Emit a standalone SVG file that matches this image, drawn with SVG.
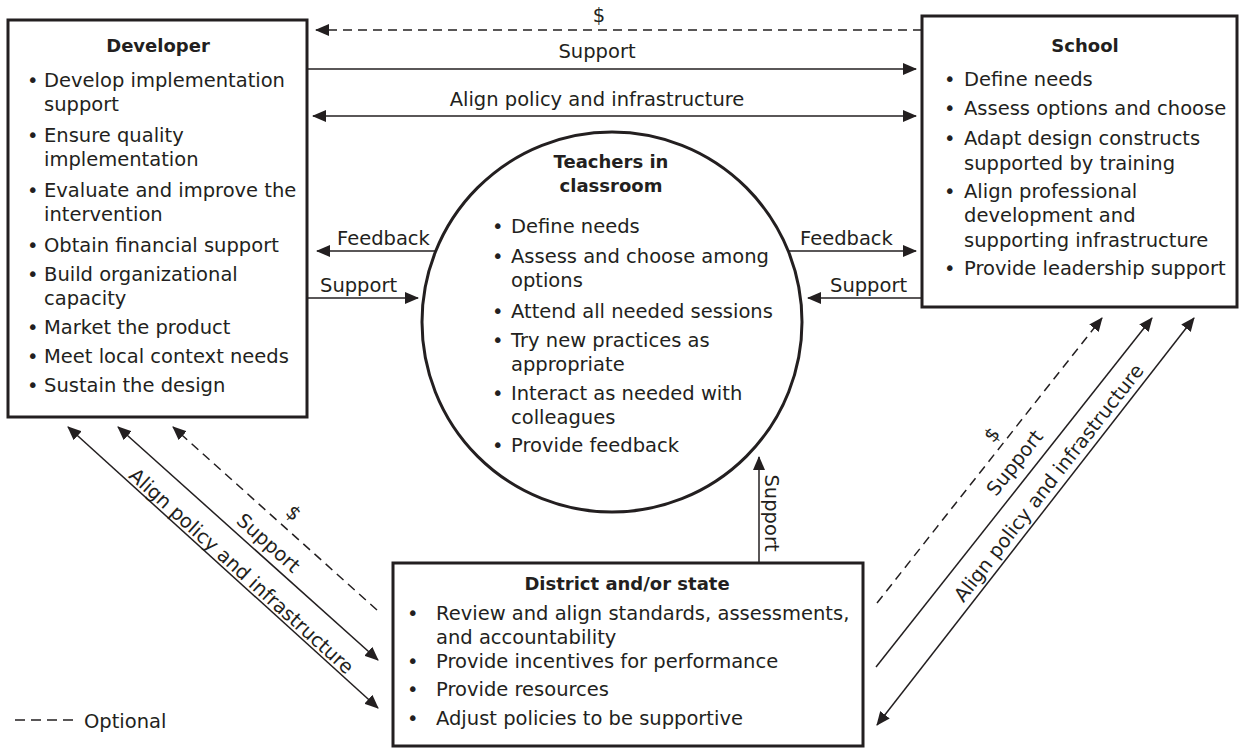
<svg xmlns="http://www.w3.org/2000/svg" width="1245" height="749" viewBox="0 0 1245 749">
  <defs>
    <style>
      text { font-family: "DejaVu Sans", "Noto Sans", sans-serif; font-size: 19.5px; fill: #231f20; }
      .title { font-weight: bold; font-size: 18px; text-anchor: middle; }
      .mid { text-anchor: middle; }
      .box { fill: #ffffff; stroke: #231f20; stroke-width: 3; }
      .link { fill: none; stroke: #231f20; stroke-width: 1.5; }
      .dash { stroke-dasharray: 9 6; }
    </style>
    <marker id="arrow" viewBox="0 0 14 12" refX="13" refY="6" markerWidth="14" markerHeight="12" markerUnits="userSpaceOnUse" orient="auto-start-reverse">
      <path d="M0,0 L14,6 L0,12 Z" fill="#231f20"/>
    </marker>
  </defs>

  <rect width="1245" height="749" fill="#ffffff"/>

  <!-- Developer -->
  <g id="developer">
    <rect class="box" x="8" y="20" width="299" height="397"/>
    <text class="title" x="158" y="52">Developer</text>
    <text x="27" y="87">•</text><text x="44" y="87">Develop implementation<tspan x="44" dy="24">support</tspan></text>
    <text x="27" y="142">•</text><text x="44" y="142">Ensure quality<tspan x="44" dy="24">implementation</tspan></text>
    <text x="27" y="197">•</text><text x="44" y="197">Evaluate and improve the<tspan x="44" dy="24">intervention</tspan></text>
    <text x="27" y="252">•</text><text x="44" y="252">Obtain financial support</text>
    <text x="27" y="281">•</text><text x="44" y="281">Build organizational<tspan x="44" dy="24">capacity</tspan></text>
    <text x="27" y="334">•</text><text x="44" y="334">Market the product</text>
    <text x="27" y="363">•</text><text x="44" y="363">Meet local context needs</text>
    <text x="27" y="392">•</text><text x="44" y="392">Sustain the design</text>
  </g>

  <!-- School -->
  <g id="school">
    <rect class="box" x="922" y="16" width="315" height="291"/>
    <text class="title" x="1085" y="52">School</text>
    <text x="944" y="86">•</text><text x="964" y="86">Define needs</text>
    <text x="944" y="115">•</text><text x="964" y="115">Assess options and choose</text>
    <text x="944" y="145">•</text><text x="964" y="145">Adapt design constructs<tspan x="964" dy="25">supported by training</tspan></text>
    <text x="944" y="198">•</text><text x="964" y="198">Align professional<tspan x="964" dy="24">development and</tspan><tspan x="964" dy="25">supporting infrastructure</tspan></text>
    <text x="944" y="275">•</text><text x="964" y="275">Provide leadership support</text>
  </g>

  <!-- Teachers in classroom -->
  <g id="teachers">
    <circle cx="612" cy="322" r="190" fill="#ffffff" stroke="#231f20" stroke-width="3"/>
    <text class="title" x="611" y="168">Teachers in<tspan x="611" dy="24">classroom</tspan></text>
    <text x="492" y="233">•</text><text x="511" y="233">Define needs</text>
    <text x="492" y="263">•</text><text x="511" y="263">Assess and choose among<tspan x="511" dy="24">options</tspan></text>
    <text x="492" y="318">•</text><text x="511" y="318">Attend all needed sessions</text>
    <text x="492" y="347">•</text><text x="511" y="347">Try new practices as<tspan x="511" dy="24">appropriate</tspan></text>
    <text x="492" y="400">•</text><text x="511" y="400">Interact as needed with<tspan x="511" dy="24">colleagues</tspan></text>
    <text x="492" y="452">•</text><text x="511" y="452">Provide feedback</text>
  </g>

  <!-- District and/or state -->
  <g id="district">
    <rect class="box" x="393" y="563" width="470" height="183"/>
    <text class="title" x="627" y="590">District and/or state</text>
    <text x="407" y="620">•</text><text x="436" y="620">Review and align standards, assessments,<tspan x="436" dy="23.5">and accountability</tspan></text>
    <text x="407" y="668">•</text><text x="436" y="668">Provide incentives for performance</text>
    <text x="407" y="696">•</text><text x="436" y="696">Provide resources</text>
    <text x="407" y="725">•</text><text x="436" y="725">Adjust policies to be supportive</text>
  </g>

  <!-- Connectors -->
  <g id="connectors">
    <!-- Developer / School -->
    <line class="link dash" x1="922" y1="30" x2="316" y2="30" marker-end="url(#arrow)"/>
    <text class="mid" x="599" y="22">$</text>
    <line class="link" x1="307" y1="69" x2="916" y2="69" marker-end="url(#arrow)"/>
    <text class="mid" x="597" y="58">Support</text>
    <line class="link" x1="313" y1="116" x2="916" y2="116" marker-start="url(#arrow)" marker-end="url(#arrow)"/>
    <text class="mid" x="597" y="106">Align policy and infrastructure</text>

    <!-- Teachers / Developer -->
    <line class="link" x1="437" y1="251" x2="317" y2="251" marker-end="url(#arrow)"/>
    <text x="337" y="245">Feedback</text>
    <line class="link" x1="307" y1="298" x2="418" y2="298" marker-end="url(#arrow)"/>
    <text x="320" y="292">Support</text>

    <!-- Teachers / School -->
    <line class="link" x1="788" y1="251" x2="916" y2="251" marker-end="url(#arrow)"/>
    <text x="800" y="245">Feedback</text>
    <line class="link" x1="922" y1="298" x2="808" y2="298" marker-end="url(#arrow)"/>
    <text x="830" y="292">Support</text>

    <!-- District to Teachers -->
    <line class="link" x1="759" y1="563" x2="759" y2="457" marker-end="url(#arrow)"/>
    <text class="mid" transform="translate(765,513) rotate(90)">Support</text>

    <!-- District / Developer -->
    <line class="link" x1="68" y1="427" x2="378" y2="708" marker-start="url(#arrow)" marker-end="url(#arrow)"/>
    <text class="mid" transform="translate(237,576) rotate(42.2)">Align policy and infrastructure</text>
    <line class="link" x1="118" y1="427" x2="378" y2="660" marker-start="url(#arrow)" marker-end="url(#arrow)"/>
    <text class="mid" transform="translate(264,548) rotate(41.9)">Support</text>
    <line class="link dash" x1="377" y1="610" x2="173" y2="427" marker-end="url(#arrow)"/>
    <text class="mid" transform="translate(289,518) rotate(41.9)">$</text>

    <!-- District / School -->
    <line class="link dash" x1="877" y1="603" x2="1102" y2="318" marker-end="url(#arrow)"/>
    <text class="mid" transform="translate(997,439) rotate(-51.7)">$</text>
    <line class="link" x1="876" y1="667" x2="1152" y2="318" marker-end="url(#arrow)"/>
    <text class="mid" transform="translate(1020,467) rotate(-51.7)">Support</text>
    <line class="link" x1="877" y1="725" x2="1194" y2="318" marker-start="url(#arrow)" marker-end="url(#arrow)"/>
    <text class="mid" transform="translate(1054,487) rotate(-52.1)">Align policy and infrastructure</text>
  </g>

  <!-- Legend -->
  <g id="legend">
    <line class="link" x1="15" y1="720" x2="73" y2="720" stroke-dasharray="10 6"/>
    <text x="84" y="728">Optional</text>
  </g>
</svg>
